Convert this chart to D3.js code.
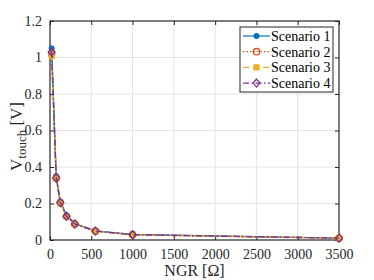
<!DOCTYPE html>
<html>
<head>
<meta charset="utf-8">
<script src="https://cdn.jsdelivr.net/npm/d3@7"></script>
<style>
  body { margin: 0; background: #fff; }
  svg text { font-family: "Liberation Serif", "Times New Roman", Times, "DejaVu Serif", serif !important; }
</style>
</head>
<body>
<div id="chart"></div>
<script>
// Data
const ngr = [20, 75, 125, 200, 300, 550, 1000, 3500];
const scenario1 = [1.05, 0.35, 0.21, 0.135, 0.09, 0.05, 0.03, 0.01];
const scenario2 = [1.02, 0.34, 0.205, 0.13, 0.088, 0.049, 0.029, 0.01];
const scenario3 = [1.01, 0.335, 0.2, 0.128, 0.087, 0.048, 0.028, 0.01];
const scenario4 = [1.03, 0.34, 0.205, 0.13, 0.088, 0.049, 0.029, 0.01];
const seriesNames = ["Scenario 1", "Scenario 2", "Scenario 3", "Scenario 4"];
const xTicks = [0, 500, 1000, 1500, 2000, 2500, 3000, 3500];
const yTicks = [0, 0.2, 0.4, 0.6, 0.8, 1, 1.2];

const W = 374, H = 280;
const margin = {top: 21, right: 35, bottom: 40, left: 50};
const width = W - margin.left - margin.right;
const height = H - margin.top - margin.bottom;

const styles = [
  {color: "#0072BD", dash: null, marker: "dot"},
  {color: "#D95319", dash: "1.5,2", marker: "circle"},
  {color: "#EDB120", dash: "6,4", marker: "square"},
  {color: "#7E2F8E", dash: "6,2.5,1.5,2.5", marker: "diamond"}
];
const allSeries = [scenario1, scenario2, scenario3, scenario4];

const svg = d3.select("#chart").append("svg")
  .attr("width", W).attr("height", H);
const g = svg.append("g").attr("transform", `translate(${margin.left},${margin.top})`);

const x = d3.scaleLinear().domain([0, 3500]).range([0, width]);
const y = d3.scaleLinear().domain([0, 1.2]).range([height, 0]);

// Grid
g.append("g").selectAll("line").data(xTicks.slice(1, -1)).join("line")
  .attr("x1", d => x(d)).attr("x2", d => x(d)).attr("y1", 0).attr("y2", height)
  .attr("stroke", "#e3e3e3").attr("stroke-width", 1);
g.append("g").selectAll("line").data(yTicks.slice(1, -1)).join("line")
  .attr("y1", d => y(d)).attr("y2", d => y(d)).attr("x1", 0).attr("x2", width)
  .attr("stroke", "#e3e3e3").attr("stroke-width", 1);

// Axes with inward ticks
const axisStyle = sel => {
  sel.attr("font-family", null);
  sel.select(".domain").remove();
  sel.selectAll("line").attr("stroke", "#262626");
  sel.selectAll("text").attr("fill", "#262626").style("font-size", "14px");
};
g.append("g").attr("transform", `translate(0,${height})`)
  .call(d3.axisBottom(x).tickValues(xTicks).tickSize(-4).tickPadding(9).tickFormat(d3.format("d")))
  .call(axisStyle);
g.append("g")
  .call(d3.axisLeft(y).tickValues(yTicks).tickSize(-4).tickPadding(8).tickFormat(d => d3.format("")(+d.toFixed(1))))
  .call(axisStyle);
g.append("g")
  .call(d3.axisTop(x).tickValues(xTicks).tickSize(-4).tickFormat(""))
  .call(axisStyle);
g.append("g").attr("transform", `translate(${width},0)`)
  .call(d3.axisRight(y).tickValues(yTicks).tickSize(-4).tickFormat(""))
  .call(axisStyle);

// Box
g.append("rect").attr("width", width).attr("height", height)
  .attr("fill", "none").attr("stroke", "#262626").attr("stroke-width", 1.2);

function drawMarker(sel, type, color) {
  if (type === "dot") {
    sel.append("circle").attr("r", 2.6).attr("fill", color).attr("stroke", color);
  } else if (type === "circle") {
    sel.append("circle").attr("r", 3.2).attr("fill", "none").attr("stroke", color).attr("stroke-width", 1.3);
  } else if (type === "square") {
    sel.append("rect").attr("x", -2.6).attr("y", -2.6).attr("width", 5.2).attr("height", 5.2)
      .attr("fill", color).attr("stroke", color);
  } else if (type === "diamond") {
    sel.append("path").attr("d", "M0,-4L3.4,0L0,4L-3.4,0Z")
      .attr("fill", "none").attr("stroke", color).attr("stroke-width", 1.3);
  }
}

const line = d3.line().x((d, i) => x(ngr[i])).y(d => y(d));

allSeries.forEach((vals, si) => {
  const s = styles[si];
  g.append("path").datum(vals)
    .attr("d", line)
    .attr("fill", "none").attr("stroke", s.color).attr("stroke-width", 1.4)
    .attr("stroke-dasharray", s.dash);
  vals.forEach((v, i) => {
    const m = g.append("g").attr("transform", `translate(${x(ngr[i])},${y(v)})`);
    drawMarker(m, s.marker, s.color);
  });
});

// Legend
const lg = g.append("g").attr("transform", `translate(${width - 99},6)`);
lg.append("rect").attr("width", 93).attr("height", 65)
  .attr("fill", "#fff").attr("stroke", "#262626").attr("stroke-width", 1);
seriesNames.forEach((name, i) => {
  const s = styles[i];
  const row = lg.append("g").attr("transform", `translate(0,${9 + i * 15.7})`);
  row.append("line").attr("x1", 3).attr("x2", 30).attr("y1", 0).attr("y2", 0)
    .attr("stroke", s.color).attr("stroke-width", 1.2).attr("stroke-dasharray", s.dash);
  drawMarker(row.append("g").attr("transform", "translate(16.5,0)"), s.marker, s.color);
  row.append("text").attr("x", 31).attr("y", 0).attr("dy", "0.35em")
    .style("font-size", "14px").attr("fill", "#000").text(name);
});

// Axis labels
svg.append("text")
  .attr("x", margin.left + width / 2).attr("y", H - 4)
  .attr("text-anchor", "middle").style("font-size", "16px").attr("fill", "#262626")
  .text("NGR [Ω]");

const yl = svg.append("text")
  .attr("transform", `translate(22,${margin.top + height / 2 + 6}) rotate(-90)`)
  .attr("text-anchor", "middle").style("font-size", "17px").attr("fill", "#262626");
yl.append("tspan").text("V");
yl.append("tspan").attr("dy", 4).style("font-size", "13px").text("touch");
yl.append("tspan").attr("dy", -4).text(" [V]");
</script>
</body>
</html>
